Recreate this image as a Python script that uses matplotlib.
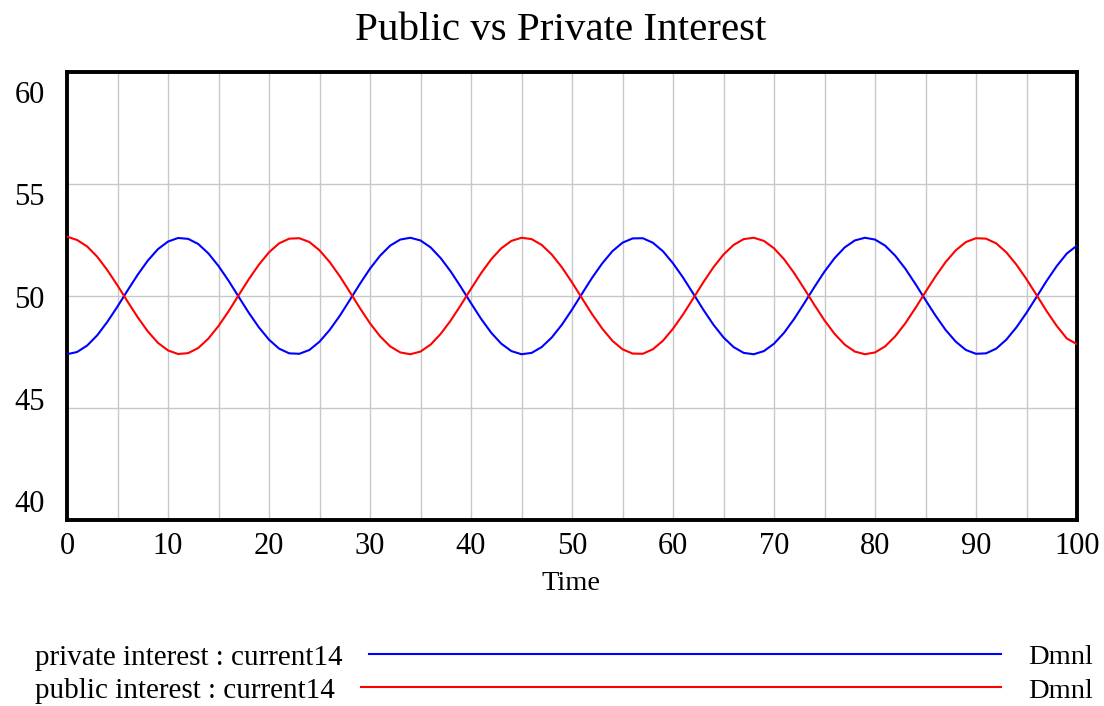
import matplotlib
matplotlib.use("Agg")
import matplotlib.pyplot as plt
from matplotlib.lines import Line2D
from matplotlib.transforms import ScaledTranslation

time = list(range(0, 101))
private_interest = [47.40, 47.50, 47.79, 48.25, 48.85, 49.53, 50.25, 50.95, 51.58, 52.09,
                    52.43, 52.59, 52.55, 52.32, 51.90, 51.34, 50.68, 49.96, 49.25, 48.60,
                    48.05, 47.65, 47.44, 47.42, 47.59, 47.96, 48.48, 49.11, 49.82, 50.54,
                    51.22, 51.80, 52.25, 52.52, 52.60, 52.48, 52.17, 51.69, 51.09, 50.40,
                    49.68, 48.98, 48.36, 47.87, 47.54, 47.40, 47.46, 47.72, 48.15, 48.72,
                    49.39, 50.11, 50.82, 51.46, 52.00, 52.38, 52.57, 52.58, 52.38, 52.00,
                    51.46, 50.82, 50.11, 49.39, 48.72, 48.15, 47.72, 47.46, 47.40, 47.54,
                    47.87, 48.36, 48.98, 49.68, 50.40, 51.09, 51.69, 52.17, 52.48, 52.60,
                    52.52, 52.25, 51.80, 51.22, 50.54, 49.82, 49.12, 48.48, 47.96, 47.59,
                    47.42, 47.44, 47.65, 48.05, 48.60, 49.25, 49.96, 50.68, 51.34, 51.90,
                    52.25]
public_interest = [52.65, 52.50, 52.21, 51.75, 51.15, 50.47, 49.75, 49.05, 48.42, 47.91,
                   47.57, 47.41, 47.45, 47.68, 48.10, 48.66, 49.32, 50.04, 50.75, 51.40,
                   51.95, 52.35, 52.56, 52.58, 52.41, 52.04, 51.52, 50.89, 50.18, 49.46,
                   48.78, 48.20, 47.75, 47.48, 47.40, 47.52, 47.83, 48.31, 48.91, 49.60,
                   50.32, 51.02, 51.64, 52.13, 52.46, 52.60, 52.54, 52.28, 51.85, 51.28,
                   50.61, 49.89, 49.18, 48.54, 48.00, 47.62, 47.43, 47.42, 47.62, 48.00,
                   48.54, 49.18, 49.89, 50.61, 51.28, 51.85, 52.28, 52.54, 52.60, 52.46,
                   52.13, 51.64, 51.02, 50.32, 49.60, 48.91, 48.31, 47.83, 47.52, 47.40,
                   47.48, 47.75, 48.20, 48.78, 49.46, 50.18, 50.88, 51.52, 52.04, 52.41,
                   52.58, 52.56, 52.35, 51.95, 51.40, 50.75, 50.04, 49.32, 48.66, 48.10,
                   47.85]

series_labels = ["private interest : current14", "public interest : current14"]
units = ["Dmnl", "Dmnl"]
colors = ["#0000ff", "#ff0000"]
x_ticks = [0, 10, 20, 30, 40, 50, 60, 70, 80, 90, 100]
y_ticks = [40, 45, 50, 55, 60]

plt.rcParams['font.family'] = ['Liberation Serif', 'DejaVu Serif']

W, H = 1104, 706
AX_TOP, AX_BOT = 72, 520
fig = plt.figure(figsize=(W / 100, H / 100), dpi=100)
ax = fig.add_axes([67 / W, 1 - AX_BOT / H, (1077 - 67) / W, (AX_BOT - AX_TOP) / H])

ax.plot(time, private_interest, color=colors[0], lw=1.5, zorder=3)
ax.plot(time, public_interest, color=colors[1], lw=1.5, zorder=3)

ax.set_xlim(0, 100)
ax.set_ylim(40, 60)
ax.set_xticks(x_ticks)
ax.set_xticks(list(range(5, 100, 10)), minor=True)
ax.set_yticks(y_ticks)
ax.tick_params(axis='both', which='both', length=0, labelsize=22)
ax.tick_params(axis='x', pad=9)
ax.tick_params(axis='y', pad=16)
ax.grid(True, which='both', axis='x', color='#c8c8c8', lw=1.0)
ax.grid(True, which='major', axis='y', color='#c8c8c8', lw=1.0)
ax.set_axisbelow(True)
for s in ax.spines.values():
    s.set_linewidth(2.8)
    s.set_color('black')

# Vensim-style y labels: spread slightly inside the axis range
n = len(y_ticks)
lab_top, lab_bot = 92, 501
for i, lbl in enumerate(ax.get_yticklabels()):
    v = y_ticks[i]
    grid_y = AX_BOT - (v - y_ticks[0]) / (y_ticks[-1] - y_ticks[0]) * (AX_BOT - AX_TOP)
    lab_y = lab_bot - i * (lab_bot - lab_top) / (n - 1)
    dy = -(lab_y - grid_y) / 100
    lbl.set_transform(lbl.get_transform() + ScaledTranslation(0, dy, fig.dpi_scale_trans))

fig.text(561 / W, 1 - 31 / H, "Public vs Private Interest", ha='center', va='center', fontsize=29.5)
fig.text(571 / W, 1 - 584 / H, "Time", ha='center', va='center', fontsize=20.5)

# legend rows
rows_y = [658, 691]
fig.canvas.draw()
renderer = fig.canvas.get_renderer()
for lab, un, col, yy in zip(series_labels, units, colors, rows_y):
    t = fig.text(35 / W, 1 - yy / H, lab, ha='left', va='center', fontsize=21)
    bb = t.get_window_extent(renderer=renderer)
    x0 = (bb.x1 + 26) / W
    fig.add_artist(Line2D([x0, 1001 / W], [1 - (yy - 4) / H, 1 - (yy - 4) / H],
                          transform=fig.transFigure, color=col, lw=1.5))
    fig.text(1028 / W, 1 - yy / H, un, ha='left', va='center', fontsize=20.5)

fig.savefig("out.png", dpi=100)
